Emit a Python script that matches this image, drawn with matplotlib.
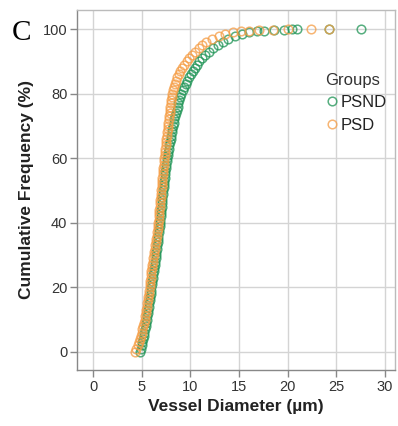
import matplotlib
matplotlib.use("Agg")
import matplotlib.pyplot as plt

# ---- data ----
groups = ["PSND", "PSD"]

psnd_diam = [4.8, 4.9, 5.0, 5.05, 5.1, 5.2, 5.25, 5.3, 5.4, 5.45,
             5.5, 5.55, 5.6, 5.65, 5.7, 5.75, 5.8, 5.85, 5.9, 5.95,
             6.0, 6.05, 6.1, 6.15, 6.2, 6.25, 6.3, 6.35, 6.4, 6.42,
             6.45, 6.5, 6.55, 6.6, 6.65, 6.7, 6.72, 6.76, 6.8, 6.85,
             6.9, 6.92, 6.95, 6.98, 7.0, 7.03, 7.06, 7.1, 7.13, 7.16,
             7.2, 7.24, 7.28, 7.32, 7.36, 7.4, 7.44, 7.48, 7.52, 7.56,
             7.6, 7.66, 7.72, 7.78, 7.84, 7.9, 7.96, 8.02, 8.08, 8.14,
             8.2, 8.28, 8.36, 8.44, 8.52, 8.6, 8.68, 8.76, 8.85, 8.95,
             9.05, 9.2, 9.35, 9.5, 9.7, 9.9, 10.1, 10.3, 10.5, 10.7,
             10.9, 11.2, 11.5, 11.9, 12.3, 12.8, 13.3, 13.9, 14.6, 15.3,
             16.0, 16.8, 17.6, 18.6, 19.6, 20.4, 21.0, 24.2, 27.5]
psnd_cum = [0, 1, 2, 3, 4, 5, 6, 7, 8, 9,
            10, 11, 12, 13, 14, 15, 16, 17, 18, 19,
            20, 21, 22, 23, 24, 25, 26, 27, 28, 29,
            30, 31, 32, 33, 34, 35, 36, 37, 38, 39,
            40, 41, 42, 43, 44, 45, 46, 47, 48, 49,
            50, 51, 52, 53, 54, 55, 56, 57, 58, 59,
            60, 61, 62, 63, 64, 65, 66, 67, 68, 69,
            70, 71, 72, 73, 74, 75, 76, 77, 78, 79,
            80, 81, 82, 83, 84, 85, 86, 87, 88, 89,
            90, 91, 92, 93, 94, 95, 96, 97, 98, 98.5,
            99, 99.3, 99.5, 99.7, 99.8, 99.9, 99.95, 100, 100]

psd_diam = [4.3, 4.45, 4.6, 4.7, 4.8, 4.9, 4.98, 5.05, 5.12, 5.2,
            5.3, 5.35, 5.4, 5.45, 5.5, 5.55, 5.6, 5.65, 5.7, 5.75,
            5.8, 5.84, 5.88, 5.92, 5.96, 6.0, 6.05, 6.1, 6.15, 6.2,
            6.25, 6.3, 6.35, 6.4, 6.45, 6.5, 6.54, 6.58, 6.62, 6.66,
            6.7, 6.73, 6.76, 6.79, 6.82, 6.85, 6.88, 6.91, 6.94, 6.97,
            7.0, 7.03, 7.06, 7.09, 7.12, 7.15, 7.18, 7.21, 7.24, 7.27,
            7.3, 7.34, 7.38, 7.42, 7.46, 7.5, 7.54, 7.58, 7.62, 7.66,
            7.7, 7.74, 7.78, 7.82, 7.86, 7.9, 7.94, 7.98, 8.02, 8.06,
            8.1, 8.2, 8.3, 8.4, 8.5, 8.65, 8.8, 8.95, 9.1, 9.35,
            9.6, 9.85, 10.15, 10.5, 10.85, 11.2, 11.65, 12.2, 12.9, 13.6,
            14.4, 15.2, 16.0, 17.0, 18.5, 20.0, 22.4, 24.2]
psd_cum = [0, 1, 2, 3, 4, 5, 6, 7, 8, 9,
           10, 11, 12, 13, 14, 15, 16, 17, 18, 19,
           20, 21, 22, 23, 24, 25, 26, 27, 28, 29,
           30, 31, 32, 33, 34, 35, 36, 37, 38, 39,
           40, 41, 42, 43, 44, 45, 46, 47, 48, 49,
           50, 51, 52, 53, 54, 55, 56, 57, 58, 59,
           60, 61, 62, 63, 64, 65, 66, 67, 68, 69,
           70, 71, 72, 73, 74, 75, 76, 77, 78, 79,
           80, 81, 82, 83, 84, 85, 86, 87, 88, 89,
           90, 91, 92, 93, 94, 95, 96, 97, 98, 98.5,
           99, 99.3, 99.5, 99.7, 99.8, 99.9, 99.95, 100]

x_ticks = [0, 5, 10, 15, 20, 25, 30]
y_ticks = [0, 20, 40, 60, 80, 100]

colors = {"PSND": "#1f9455", "PSD": "#f59d45"}

plt.rcParams["font.family"] = ["Liberation Sans", "DejaVu Sans"]

fig = plt.figure(figsize=(3.98, 4.26), dpi=100)
ax = fig.add_axes([0.1935, 0.1315, 0.7985, 0.845])

ax.plot(psnd_diam, psnd_cum, linestyle="none", marker="o", markersize=6.2,
        markerfacecolor="none", markeredgecolor=colors["PSND"], markeredgewidth=1.1,
        alpha=0.75, label="PSND", zorder=3)
ax.plot(psd_diam, psd_cum, linestyle="none", marker="o", markersize=6.2,
        markerfacecolor="none", markeredgecolor=colors["PSD"], markeredgewidth=1.1,
        alpha=0.75, label="PSD", zorder=3)

ax.set_xlim(-1.65, 31.0)
ax.set_ylim(-5.6, 105.9)
ax.set_xticks(x_ticks)
ax.set_yticks(y_ticks)
ax.grid(True, color="#d4d4d4", linewidth=1.0, zorder=0)
ax.set_axisbelow(True)

for side in ["left", "bottom"]:
    ax.spines[side].set_color("#888888")
    ax.spines[side].set_linewidth(1.0)
for side in ["top", "right"]:
    ax.spines[side].set_color("#bbbbbb")
    ax.spines[side].set_linewidth(1.0)

ax.tick_params(axis="both", direction="out", length=5, width=1, color="#888888",
               labelsize=10.5, labelcolor="#333333", pad=2)

ax.set_xlabel("Vessel Diameter (\u00b5m)", fontsize=12.5, fontweight="bold",
              color="#222222", labelpad=4)
ax.set_ylabel("Cumulative Frequency (%)", fontsize=12.5, fontweight="bold",
              color="#222222", labelpad=6)

leg = ax.legend(title="Groups", loc="upper left", bbox_to_anchor=(0.78, 0.826),
                frameon=False, fontsize=12, title_fontsize=12, handletextpad=0.15,
                handlelength=0.8, borderaxespad=0, borderpad=0, labelspacing=0.45,
                alignment="left")
for t in leg.get_texts():
    t.set_color("#222222")
leg.get_title().set_color("#333333")

fig.text(0.03, 0.922, "C", fontsize=21, family=["Liberation Serif", "DejaVu Serif"],
         color="black", ha="left", va="center")

fig.savefig("out.png", dpi=100)
